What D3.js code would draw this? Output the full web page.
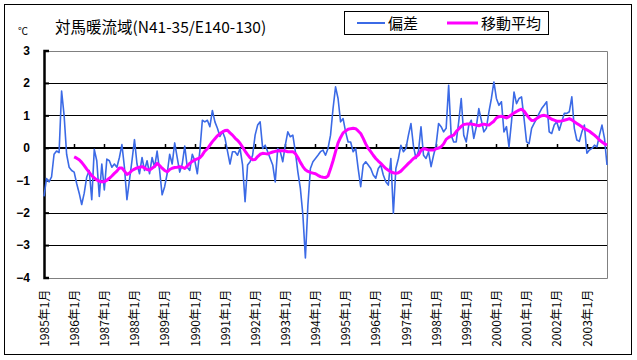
<!DOCTYPE html>
<html><head><meta charset="utf-8">
<script src="https://cdn.jsdelivr.net/npm/d3@7"></script>
<style>body{margin:0;background:#fff}</style>
</head><body><svg id="c" width="637" height="360"></svg>
<script>
const title = "対馬暖流域(N41-35/E140-130)";
const unitLabel = "℃";
const seriesNames = ["偏差", "移動平均"];
const seriesColors = ["#3b6ae6", "#ff00ff"];
// monthly anomaly, 1985/1 .. 2003/9
const anomaly = [
 -1.5,-0.95,-1.05,-0.9,-0.2,-0.1,-0.15,1.75,1.0,-0.2,-0.6,-0.7,
 -0.75,-1.1,-1.4,-1.75,-1.4,-0.9,-0.7,-1.6,-0.05,-0.4,-1.5,-0.5,
 -1.3,-0.35,-0.4,-0.6,-0.5,-0.6,-0.3,0.1,-0.6,-1.6,-1.0,-0.4,
 0.25,-0.5,-0.8,-0.3,-0.7,-0.4,-0.8,-0.3,-0.6,-0.1,-0.7,-1.45,
 -1.2,-0.8,-0.2,-0.5,0.15,-0.3,-0.75,-0.5,0.05,-0.6,-0.7,-0.2,
 -0.4,-0.8,-0.1,0.85,0.8,0.85,0.65,1.15,0.8,0.6,0.35,0.5,
 0.3,-0.1,-0.5,-0.12,-0.12,-0.23,-0.02,-0.53,-1.66,-0.53,-0.43,-0.23,
 0.39,0.70,0.80,-0.02,0.08,-0.12,-0.33,-0.53,-1.05,-0.02,-0.12,-0.43,
 0.08,0.49,0.34,0.39,-0.12,-0.74,-1.25,-2.07,-3.40,-1.76,-0.64,-0.43,
 -0.33,-0.23,-0.12,-0.07,-0.23,-0.02,0.39,1.21,1.88,1.52,0.80,0.90,
 0.49,0.18,0.18,-0.12,-0.02,-0.64,-1.20,-0.53,-0.43,-0.53,-0.64,-0.84,
 -0.94,-0.64,-0.53,-0.84,-1.05,-1.15,-0.33,-2.02,-0.64,-0.33,0.08,-0.12,
 -0.02,0.39,0.75,0.05,-0.33,-0.1,0.65,-0.23,-0.33,-0.12,-0.58,-0.23,
 0.08,0.75,0.65,0.49,0.6,1.93,0.39,0.18,0.18,0.8,1.52,0.39,
 0.18,0.7,0.85,0.29,0.65,1.21,0.85,0.49,0.6,1.1,1.52,2.03,
 1.52,1.31,1.42,0.49,0.65,0.03,0.8,1.72,1.36,1.52,1.57,0.9,
 0.18,0.13,0.6,0.75,0.9,1.06,1.21,1.31,1.42,0.49,0.44,0.7,
 0.8,0.54,0.8,1.06,1.06,1.11,1.57,0.6,0.24,0.2,0.49,0.7,
 -0.17,-0.07,-0.02,0.08,0.03,0.39,0.7,0.29,-0.53
];
const movingAvg = [
 null,null,null,null,null,null,null,null,null,null,null,null,
 -0.28,-0.32,-0.37,-0.45,-0.55,-0.66,-0.76,-0.86,-0.93,-0.99,-1.03,-1.05,
 -1.05,-1.0,-0.94,-0.87,-0.79,-0.72,-0.62,-0.62,-0.72,-0.82,-0.78,-0.70,
 -0.66,-0.62,-0.60,-0.58,-0.62,-0.67,-0.69,-0.63,-0.58,-0.48,-0.55,-0.63,
 -0.70,-0.74,-0.67,-0.63,-0.61,-0.60,-0.58,-0.60,-0.64,-0.56,-0.48,-0.42,
 -0.37,-0.34,-0.31,-0.22,-0.1,-0.03,0.08,0.19,0.28,0.37,0.44,0.49,
 0.53,0.54,0.46,0.39,0.30,0.23,0.14,0.02,-0.10,-0.21,-0.31,-0.37,
 -0.36,-0.27,-0.20,-0.17,-0.18,-0.19,-0.16,-0.13,-0.11,-0.10,-0.09,-0.09,
 -0.10,-0.12,-0.12,-0.12,-0.18,-0.30,-0.45,-0.58,-0.68,-0.73,-0.76,-0.78,
 -0.80,-0.85,-0.89,-0.91,-0.92,-0.87,-0.65,-0.40,-0.12,0.15,0.32,0.46,
 0.52,0.57,0.59,0.60,0.59,0.52,0.44,0.29,0.12,-0.02,-0.12,-0.23,
 -0.33,-0.41,-0.48,-0.56,-0.64,-0.69,-0.74,-0.77,-0.79,-0.77,-0.72,-0.64,
 -0.56,-0.48,-0.41,-0.33,-0.28,-0.22,-0.08,-0.03,-0.04,-0.07,-0.07,-0.07,
 -0.03,-0.01,0.03,0.12,0.26,0.32,0.36,0.39,0.50,0.58,0.66,0.72,
 0.73,0.73,0.73,0.72,0.70,0.68,0.71,0.73,0.71,0.70,0.76,0.82,
 0.92,0.96,0.97,0.95,0.92,0.96,1.02,1.07,1.12,1.16,1.19,1.13,
 1.02,0.92,0.84,0.85,0.90,0.95,0.99,1.00,0.98,0.93,0.88,0.85,
 0.82,0.82,0.83,0.85,0.87,0.90,0.86,0.80,0.75,0.70,0.65,0.59,
 0.55,0.51,0.45,0.39,0.32,0.24,0.18,0.12,0.08
];
const yTicks = [3, 2, 1, 0, -1, -2, -3, -4];
const xTickLabels = ["1985年1月","1986年1月","1987年1月","1988年1月","1989年1月","1990年1月",
 "1991年1月","1992年1月","1993年1月","1994年1月","1995年1月","1996年1月","1997年1月",
 "1998年1月","1999年1月","2000年1月","2001年1月","2002年1月","2003年1月"];
const monthsPerLabel = 12;

const svg = d3.select("#c");
const L = 44, R = 607, T = 50.5, B = 277.5;
const x = d3.scaleLinear().domain([0, anomaly.length - 1]).range([L, R]);
const y = d3.scaleLinear().domain([-4, 3]).range([B, T]);
const jp = "'Noto Sans CJK JP','Noto Sans',sans-serif";

svg.append("rect").attr("x", 0).attr("y", 0).attr("width", 637).attr("height", 360).attr("fill", "#fff");
svg.append("rect").attr("x", 4.5).attr("y", 4.5).attr("width", 627).attr("height", 350)
  .attr("fill", "none").attr("stroke", "#000").attr("stroke-width", 1);

// gridlines
svg.append("g").selectAll("line").data(yTicks.filter(v => v !== 0 && v !== 3 && v !== -4)).join("line")
  .attr("x1", L).attr("x2", R).attr("y1", d => Math.round(y(d)) + 0.5).attr("y2", d => Math.round(y(d)) + 0.5)
  .attr("stroke", "#000").attr("stroke-width", 1);
// plot border top/right/bottom gray
svg.append("path")
  .attr("d", `M${L},${Math.round(T)+0.5}H${R+0.5}V${Math.round(B)+0.5}H${L}`)
  .attr("fill", "none").attr("stroke", "#808080").attr("stroke-width", 1);

// zero axis
const y0 = Math.round(y(0));
svg.append("line").attr("x1", L).attr("x2", R).attr("y1", y0).attr("y2", y0)
  .attr("stroke", "#000").attr("stroke-width", 2);
svg.append("g").selectAll("line").data(xTickLabels.map((d, k) => k * monthsPerLabel).filter(m => m > 0)).join("line")
  .attr("x1", d => Math.round(x(d)) + 0.5).attr("x2", d => Math.round(x(d)) + 0.5)
  .attr("y1", y0 - 4).attr("y2", y0)
  .attr("stroke", "#000").attr("stroke-width", 1.5);

// y axis
const yAxis = svg.append("g").attr("transform", `translate(${L},0)`)
  .call(d3.axisLeft(y).tickValues(yTicks).tickSize(-5).tickPadding(14).tickFormat(d => d === 0 ? "0" : (d < 0 ? "−" + Math.abs(d) : String(d))));
yAxis.select(".domain").attr("stroke", "#000").attr("stroke-width", 2.5);
yAxis.selectAll(".tick line").attr("stroke", "#000").attr("stroke-width", 2);
yAxis.selectAll("text").attr("font-family", "'Liberation Sans',Arial,sans-serif").attr("font-size", 12).attr("font-weight", "bold").attr("fill", "#000");

// x axis labels
const xAxis = svg.append("g").attr("transform", `translate(0,${B})`)
  .call(d3.axisBottom(x).tickValues(xTickLabels.map((d, k) => k * monthsPerLabel)).tickSize(0)
    .tickFormat((d, k) => xTickLabels[k]));
xAxis.select(".domain").remove();
xAxis.selectAll("text")
  .attr("transform", "rotate(-90)").attr("text-anchor", "end")
  .attr("x", -12).attr("y", 0).attr("dy", "0.35em")
  .attr("font-family", jp).attr("font-size", 12).attr("fill", "#000");

// series
const lineA = d3.line().x((d, i) => x(i)).y(d => y(d));
svg.append("path").datum(anomaly).attr("d", lineA)
  .attr("fill", "none").attr("stroke", seriesColors[0]).attr("stroke-width", 1.6).attr("stroke-linejoin", "round");
const lineM = d3.line().defined(d => d !== null).x((d, i) => x(i)).y(d => y(d));
svg.append("path").datum(movingAvg).attr("d", lineM)
  .attr("fill", "none").attr("stroke", seriesColors[1]).attr("stroke-width", 3).attr("stroke-linejoin", "round");

// title and unit
svg.append("text").attr("x", 55).attr("y", 33).text(title)
  .attr("font-family", jp).attr("font-size", 15.5).attr("fill", "#000");
svg.append("text").attr("x", 18).attr("y", 35).text(unitLabel)
  .attr("font-family", jp).attr("font-size", 10).attr("fill", "#000");

// legend
const lg = svg.append("g");
lg.append("rect").attr("x", 344.5).attr("y", 11.5).attr("width", 204).attr("height", 23)
  .attr("fill", "#fff").attr("stroke", "#000");
const legendItems = [{x1: 357, x2: 385, tx: 388}, {x1: 447, x2: 478, tx: 481}];
legendItems.forEach((it, k) => {
  lg.append("line").attr("x1", it.x1).attr("x2", it.x2).attr("y1", 23).attr("y2", 23)
    .attr("stroke", seriesColors[k]).attr("stroke-width", k === 0 ? 2 : 3);
  lg.append("text").attr("x", it.tx).attr("y", 28.5).text(seriesNames[k])
    .attr("font-family", jp).attr("font-size", 15).attr("fill", "#000");
});
</script>
</body></html>
